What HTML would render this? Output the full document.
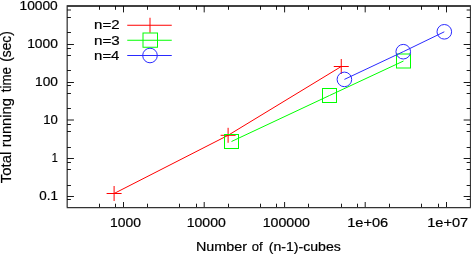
<!DOCTYPE html>
<html><head><meta charset="utf-8">
<style>
html,body{margin:0;padding:0;background:#fff;width:472px;height:255px;overflow:hidden}
svg{display:block}
text{font-family:"Liberation Sans",sans-serif;font-size:12.5px;fill:#000;stroke:#000;stroke-width:0.2px}
</style></head>
<body>
<svg width="472" height="255" viewBox="0 0 472 255">
<rect width="472" height="255" fill="#fff"/>
<g stroke="#1a1a1a" stroke-width="1" fill="none">
<path d="M67.15,44.5h6.8M470.45,44.5h-6.8M67.15,82.5h6.8M470.45,82.5h-6.8M67.15,120.0h6.8M470.45,120.0h-6.8M67.15,158.5h6.8M470.45,158.5h-6.8M67.15,196.5h6.8M470.45,196.5h-6.8"/>
<path d="M67.15,10.0h3.8M470.45,10.0h-3.8M67.15,17.5h3.8M470.45,17.5h-3.8M67.15,32.5h3.8M470.45,32.5h-3.8M67.15,48.5h3.8M470.45,48.5h-3.8M67.15,55.5h3.8M470.45,55.5h-3.8M67.15,70.5h3.8M470.45,70.5h-3.8M67.15,85.5h3.8M470.45,85.5h-3.8M67.15,93.5h3.8M470.45,93.5h-3.8M67.15,108.5h3.8M470.45,108.5h-3.8M67.15,124.5h3.8M470.45,124.5h-3.8M67.15,131.5h3.8M470.45,131.5h-3.8M67.15,147.5h3.8M470.45,147.5h-3.8M67.15,162.5h3.8M470.45,162.5h-3.8M67.15,169.5h3.8M470.45,169.5h-3.8M67.15,185.5h3.8M470.45,185.5h-3.8M67.15,199.5h3.8M470.45,199.5h-3.8"/>
<path d="M123.5,207.5v-5.5M123.5,6v6.4M204.2,207.5v-5.5M204.2,6v6.4M284.6,207.5v-5.5M284.6,6v6.4M365.2,207.5v-5.5M365.2,6v6.4M446.5,207.5v-5.5M446.5,6v6.4"/>
<path d="M99.5,207.5v-3.8M99.5,6v3.8M115.5,207.5v-3.8M115.5,6v3.8M147.5,207.5v-3.8M147.5,6v3.8M179.5,207.5v-3.8M179.5,6v3.8M196.5,207.5v-3.8M196.5,6v3.8M228.5,207.5v-3.8M228.5,6v3.8M260.5,207.5v-3.8M260.5,6v3.8M276.5,207.5v-3.8M276.5,6v3.8M308.5,207.5v-3.8M308.5,6v3.8M341.5,207.5v-3.8M341.5,6v3.8M357.5,207.5v-3.8M357.5,6v3.8M389.5,207.5v-3.8M389.5,6v3.8M421.5,207.5v-3.8M421.5,6v3.8M438.5,207.5v-3.8M438.5,6v3.8"/>
<path stroke="#000" stroke-width="1" d="M67.15,6.65V207"/>
<path stroke="#222" stroke-width="1" d="M470.4,6.65V207"/>
<path stroke="#000" stroke-width="1.3" d="M66.65,6H470.9"/>
<path stroke="#333" stroke-width="1.2" d="M66.65,207.6H470.9"/>
</g>
<g style="filter:grayscale(1)">
<text x="19.51" y="10" textLength="38.27" lengthAdjust="spacingAndGlyphs" style="font-size:12.5px">10000</text>
<text x="27.19" y="48" textLength="30.65" lengthAdjust="spacingAndGlyphs" style="font-size:12.5px">1000</text>
<text x="35.13" y="86" textLength="22.83" lengthAdjust="spacingAndGlyphs" style="font-size:12.5px">100</text>
<text x="43.28" y="124" textLength="14.57" lengthAdjust="spacingAndGlyphs" style="font-size:12.5px">10</text>
<text x="51.68" y="162" textLength="6.03" lengthAdjust="spacingAndGlyphs" style="font-size:12.5px">1</text>
<text x="39.22" y="200" textLength="18.64" lengthAdjust="spacingAndGlyphs" style="font-size:12.5px">0.1</text>
<text x="110.13" y="227" textLength="30.83" lengthAdjust="spacingAndGlyphs" style="font-size:12.5px">1000</text>
<text x="186.72" y="227" textLength="39.02" lengthAdjust="spacingAndGlyphs" style="font-size:12.5px">10000</text>
<text x="262.72" y="227" textLength="47.29" lengthAdjust="spacingAndGlyphs" style="font-size:12.5px">100000</text>
<text x="347.24" y="227" textLength="40.96" lengthAdjust="spacingAndGlyphs" style="font-size:12.5px">1e+06</text>
<text x="427.2" y="227" textLength="40.89" lengthAdjust="spacingAndGlyphs" style="font-size:12.5px">1e+07</text>
<text x="94.14" y="29" textLength="25.44" lengthAdjust="spacingAndGlyphs" style="font-size:12.5px">n=2</text>
<text x="93.99" y="45" textLength="25.72" lengthAdjust="spacingAndGlyphs" style="font-size:12.5px">n=3</text>
<text x="94.11" y="60" textLength="25.33" lengthAdjust="spacingAndGlyphs" style="font-size:12.5px">n=4</text>
<text x="195.94" y="251" textLength="51" lengthAdjust="spacingAndGlyphs" style="font-size:12.5px">Number</text>
<text x="251.71" y="251" textLength="10.9" lengthAdjust="spacingAndGlyphs" style="font-size:12.5px">of</text>
<text x="268.81" y="251" textLength="72.04" lengthAdjust="spacingAndGlyphs" style="font-size:12.5px">(n-1)-cubes</text>
<text transform="translate(10.5,183.23) rotate(-90)" textLength="31.5" lengthAdjust="spacingAndGlyphs" style="font-size:13.8px">Total</text>
<text transform="translate(10.5,147.15) rotate(-90)" textLength="48.99" lengthAdjust="spacingAndGlyphs" style="font-size:13.8px">running</text>
<text transform="translate(10.5,92.23) rotate(-90)" textLength="25.1" lengthAdjust="spacingAndGlyphs" style="font-size:13.8px">time</text>
<text transform="translate(10.5,61.82) rotate(-90)" textLength="30.63" lengthAdjust="spacingAndGlyphs" style="font-size:13.8px">(sec)</text>
</g>
<g fill="none" stroke-width="1">
<g stroke="#ff0000">
<path d="M127.25,25.25H171.75M150,17.75v15"/>
<polyline points="114.1,193.5 228.1,135.3 341.25,66.5"/>
<path d="M106.6,193.5h15M114.1,186v15M220.6,135.3h15M228.1,127.8v15M333.75,66.5h15M341.25,59v15"/>
</g>
<g stroke="#00ff00">
<path d="M127.25,40.25H171.75"/>
<rect x="143" y="33" width="14.5" height="14.25"/>
<polyline points="231.5,141.5 329.5,95.5 403.5,61"/>
<rect x="224.5" y="134.5" width="14" height="14"/>
<rect x="322.5" y="88.5" width="14" height="14"/>
<rect x="396.5" y="54" width="14" height="14"/>
</g>
<g stroke="#2a2aff">
<path d="M127.25,55.5H171.75"/>
<circle cx="150" cy="55.5" r="7.3"/>
<polyline points="344.4,79.4 403.25,51.7 444.3,31.8"/>
<circle cx="344.4" cy="79.4" r="7.3"/>
<circle cx="403.25" cy="51.7" r="7.3"/>
<circle cx="444.3" cy="31.8" r="7.3"/>
</g>
</g>
</svg>
</body></html>
